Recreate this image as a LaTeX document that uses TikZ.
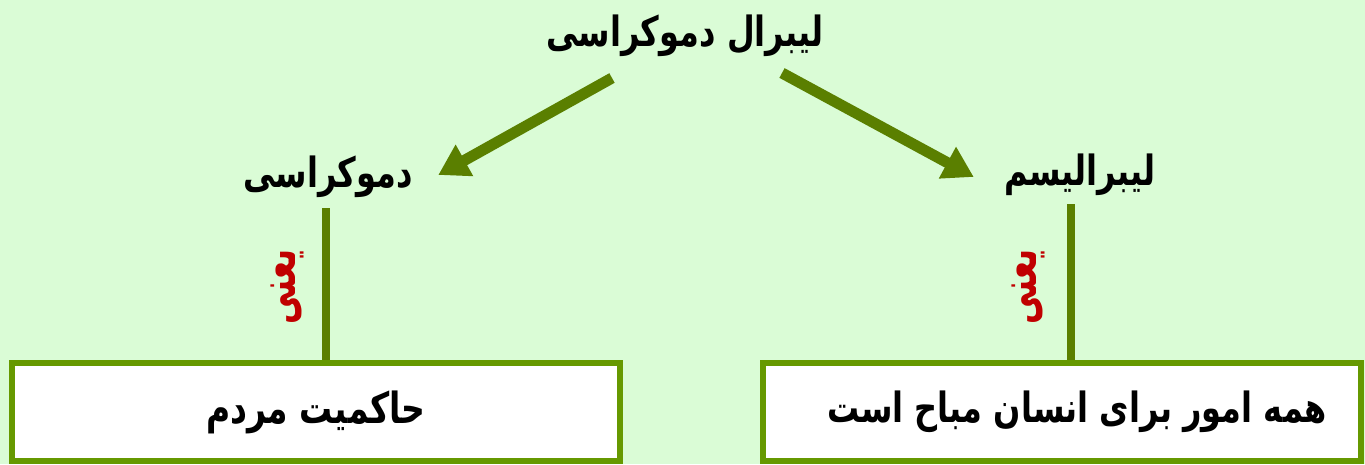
\documentclass[tikz,border=0pt]{standalone}
\usepackage{fontspec}
\usepackage{graphicx}
\usetikzlibrary{arrows.meta}
\TeXXeTstate=1
\newfontfamily\arabicfont[Script=Arabic]{DejaVu Sans}
\newcommand\fatext[1]{\scalebox{1}[1.3]{\arabicfont\bfseries\beginR #1\endR}}
\newcommand\fared[1]{\scalebox{1}[1.6]{\arabicfont\bfseries\beginR #1\endR}}
\definecolor{bgc}{HTML}{DAFCD6}
\definecolor{arrc}{HTML}{5A7F00}
\definecolor{boxc}{HTML}{669900}
\definecolor{redc}{HTML}{C00000}
\begin{document}
\begin{tikzpicture}[x=1pt,y=-1pt,
  lbl/.style={font=\fontsize{32}{38}\selectfont, inner sep=0pt},
  ylbl/.style={font=\fontsize{32}{38}\selectfont, text=redc, rotate=90, inner sep=0pt},
  arr/.style={draw=arrc, line width=11pt, -{Triangle[length=30pt,width=34pt]}, shorten >=-2pt},
  vline/.style={draw=arrc, line width=8pt},
  resbox/.style={draw=boxc, line width=5.5pt, fill=white, font=\fontsize{33}{40}\selectfont}]
\fill[bgc] (0,0) rectangle (1365,464);
\useasboundingbox (0,0) rectangle (1365,464);
\node[lbl] (t) at (685,36) {\fatext{لیبرال دموکراسی}};
\node[lbl] (d) at (328,177) {\fatext{دموکراسی}};
\node[lbl] (l) at (1080,175) {\fatext{لیبرالیسم}};
\coordinate (a1s) at (612,78);
\coordinate (a1e) at (440,174);
\coordinate (a2s) at (782,73);
\coordinate (a2e) at (972,176);
\draw[arr] (a1s) -- (a1e);
\draw[arr] (a2s) -- (a2e);
\node[resbox, minimum width=608pt, minimum height=98pt] (b1) at (316,412) {\fatext{حاکمیت مردم}};
\node[resbox, minimum width=598pt, minimum height=98pt, font=\fontsize{32}{40}\selectfont] (b2) at (1062,412) {\kern30pt\fatext{همه امور برای انسان مباح است}};
\coordinate (v1) at (326,208);
\coordinate (v2) at (1071,204);
\draw[vline] (v1) -- (v1 |- b1.north);
\draw[vline] (v2) -- (v2 |- b2.north);
\node[ylbl] (y1) at (287,287) {\fared{یعنی}};
\node[ylbl] (y2) at (1028,287) {\fared{یعنی}};
\end{tikzpicture}
\end{document}
